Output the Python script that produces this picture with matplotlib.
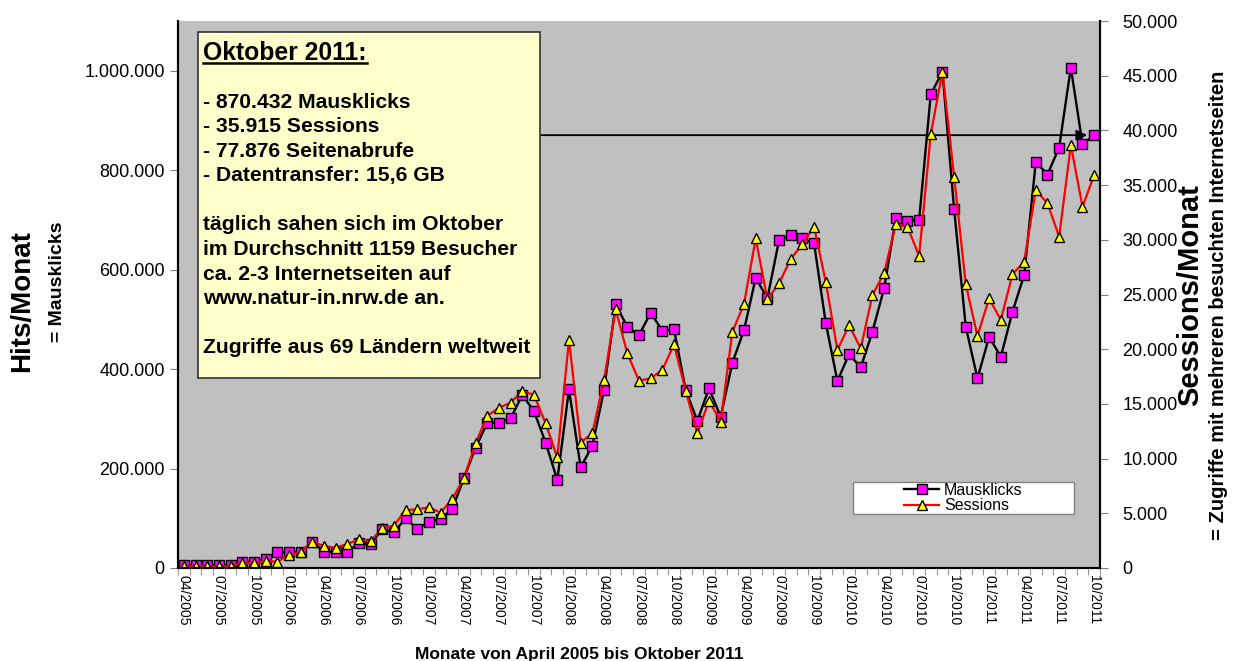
import matplotlib.pyplot as plt
import matplotlib.ticker as mticker
from matplotlib.patches import Rectangle
from matplotlib.lines import Line2D
import pandas as pd

plt.rcParams['font.family'] = ['Liberation Sans', 'DejaVu Sans']

# Monate April 2005 bis Oktober 2011
monate = pd.period_range('2005-04', '2011-10', freq='M').strftime('%m/%Y').tolist()

# Hits pro Monat (linke Achse)
mausklicks = [6000, 6000, 6000, 6000, 6000, 12700, 12700, 17400, 31500, 31500,
              31500, 53000, 32800, 32800, 32800, 49600, 47600, 78400, 71700, 99900,
              78400, 93100, 98500, 118600, 181000, 241800, 292100, 292100, 300900, 347700,
              315600, 251900, 176900, 359200, 202400, 245900, 357800, 530000, 485000, 468300,
              513200, 477000, 480400, 357800, 296100, 361200, 304100, 412700, 478400, 583500,
              542100, 659300, 669300, 662700, 652600, 493100, 375900, 430100, 403400, 475000,
              562200, 702900, 698100, 699500, 952700, 997600, 721600, 485000, 381300, 464900,
              424700, 515200, 588900, 816700, 791300, 845600, 1006400, 852200, 870432]

# Sessions pro Monat (rechte Achse)
sessions = [150, 150, 150, 150, 150, 480, 480, 620, 590, 1160,
            1490, 2400, 2010, 1860, 2190, 2620, 2470, 3630, 3870, 5300,
            5360, 5550, 5060, 6300, 8220, 11400, 13920, 14650, 15110, 16210,
            15810, 13220, 10110, 20840, 11460, 12310, 17180, 23640, 19620, 17120,
            17340, 18100, 20440, 16210, 12310, 15290, 13370, 21600, 24130, 30130,
            24560, 26020, 28240, 29610, 31200, 26170, 19930, 22180, 20080, 24950,
            26940, 31410, 31200, 28520, 39670, 45360, 35770, 25930, 21200, 24650,
            22670, 26840, 28000, 34550, 33330, 30280, 38660, 33020, 35915]

info_titel = 'Oktober 2011:'
info_zeilen = ['- 870.432 Mausklicks',
               '- 35.915 Sessions',
               '- 77.876 Seitenabrufe',
               '- Datentransfer: 15,6 GB',
               '',
               'täglich sahen sich im Oktober',
               'im Durchschnitt 1159 Besucher',
               'ca. 2-3 Internetseiten auf',
               'www.natur-in.nrw.de an.',
               '',
               'Zugriffe aus 69 Ländern weltweit']


def punkt_format(v, pos):
    return '{:,.0f}'.format(v).replace(',', '.')


fig = plt.figure(figsize=(12.34, 6.61), dpi=100)
ax1 = fig.add_axes([178 / 1234, 1 - 568 / 661, 922 / 1234, 547 / 661])
ax1.set_facecolor('#C0C0C0')
ax2 = ax1.twinx()

x = list(range(len(monate)))
ax1.plot(x, mausklicks, color='black', lw=1.7, marker='s', markersize=6.5,
         markerfacecolor='#FF00FF', markeredgecolor='black', markeredgewidth=1.0)
ax2.plot(x, sessions, color='red', lw=1.6, marker='^', markersize=7.5,
         markerfacecolor='#FFFF00', markeredgecolor='black', markeredgewidth=1.0)

ax1.set_xlim(-0.5, len(monate) - 0.5)
ax1.set_ylim(0, 1100000)
ax2.set_ylim(0, 50000)
ax1.yaxis.set_major_locator(mticker.FixedLocator(range(0, 1000001, 200000)))
ax2.yaxis.set_major_locator(mticker.MultipleLocator(5000))
ax1.yaxis.set_major_formatter(mticker.FuncFormatter(punkt_format))
ax2.yaxis.set_major_formatter(mticker.FuncFormatter(punkt_format))

ax1.set_xticks(x[::3])
ax1.set_xticklabels(monate[::3], rotation=270, fontsize=10)
ax1.set_xticks([i - 0.5 for i in range(len(monate) + 1)], minor=True)
ax1.tick_params(axis='x', which='major', length=0, pad=5)
ax1.tick_params(axis='x', which='minor', length=5, color='#808080')
ax1.tick_params(axis='y', length=6, labelsize=13, color='#808080')
ax2.tick_params(axis='y', length=6, labelsize=13, color='#808080', pad=10)

for ax in (ax1, ax2):
    ax.spines['top'].set_visible(False)
    ax.spines['left'].set_linewidth(1.5)
    ax.spines['bottom'].set_linewidth(1.5)
    ax.spines['right'].set_linewidth(1.5)

# Achsentitel
fig.text(22 / 1234, 1 - 301 / 661, 'Hits/Monat', rotation=90, ha='center', va='center',
         fontsize=20, fontweight='bold')
fig.text(58 / 1234, 1 - 282 / 661, '= Mausklicks', rotation=90, ha='center', va='center',
         fontsize=14, fontweight='bold')
fig.text(1190 / 1234, 1 - 295 / 661, 'Sessions/Monat', rotation=90, ha='center', va='center',
         fontsize=21, fontweight='bold')
fig.text(1218 / 1234, 1 - 305 / 661, '= Zugriffe mit mehreren besuchten Internetseiten',
         rotation=90, ha='center', va='center', fontsize=14.5, fontweight='bold')
fig.text(579 / 1234, 1 - 654 / 661, 'Monate von April 2005 bis Oktober 2011',
         ha='center', va='center', fontsize=12.5, fontweight='bold')

# Infobox
box_l, box_b = (198 - 178) / 922, (568 - 378) / 547
box_r, box_t = (540 - 178) / 922, (568 - 32) / 547
ax2.add_patch(Rectangle((box_l, box_b), box_r - box_l, box_t - box_b, transform=ax2.transAxes,
                        facecolor='#FFFFCC', edgecolor='#333333', lw=1.2, zorder=5))
titel = ax2.text((203 - 178) / 922, (568 - 53) / 547, info_titel, transform=ax2.transAxes,
                 ha='left', va='center', fontsize=17.8, fontweight='bold', zorder=6)
for k, zeile in enumerate(info_zeilen):
    ax2.annotate(zeile, xy=((203 - 178) / 922, (568 - 102) / 547), xycoords='axes fraction',
                 xytext=(0, -k * 17.7), textcoords='offset points', ha='left', va='center',
                 fontsize=15.2, fontweight='bold', zorder=6)

# Pfeil von der Box zum letzten Wert
ax1.annotate('', xy=(len(monate) - 1.6, mausklicks[-1]), xycoords='data',
             xytext=(box_r, mausklicks[-1]), textcoords=('axes fraction', 'data'),
             arrowprops=dict(arrowstyle='-|>', color='black', lw=1.3, mutation_scale=16,
                             shrinkA=0, shrinkB=0), zorder=4)

# Legende
leg_l, leg_b = (853 - 178) / 922, (568 - 514) / 547
leg_w, leg_h = 221 / 922, 32 / 547
ax2.add_patch(Rectangle((leg_l, leg_b), leg_w, leg_h, transform=ax2.transAxes,
                        facecolor='white', edgecolor='#808080', lw=1.0, zorder=5))
handles = [Line2D([], [], color='black', lw=1.7, marker='s', markersize=6.5,
                  markerfacecolor='#FF00FF', markeredgecolor='black'),
           Line2D([], [], color='red', lw=1.6, marker='^', markersize=7.5,
                  markerfacecolor='#FFFF00', markeredgecolor='black')]
leg = ax2.legend(handles, ['Mausklicks', 'Sessions'], loc='center',
                 bbox_to_anchor=(leg_l + leg_w / 2, leg_b + leg_h / 2),
                 frameon=False, fontsize=11.5, labelspacing=0.05, borderpad=0,
                 handlelength=2.2, handletextpad=0.3)
leg.set_zorder(6)

# Unterstreichung der Überschrift
fig.canvas.draw()
bb = titel.get_window_extent().transformed(ax2.transAxes.inverted())
ax2.plot([bb.x0, bb.x1], [bb.y0 + 0.003, bb.y0 + 0.003], transform=ax2.transAxes,
         color='black', lw=1.8, zorder=6)

fig.savefig('out.png', dpi=100)
